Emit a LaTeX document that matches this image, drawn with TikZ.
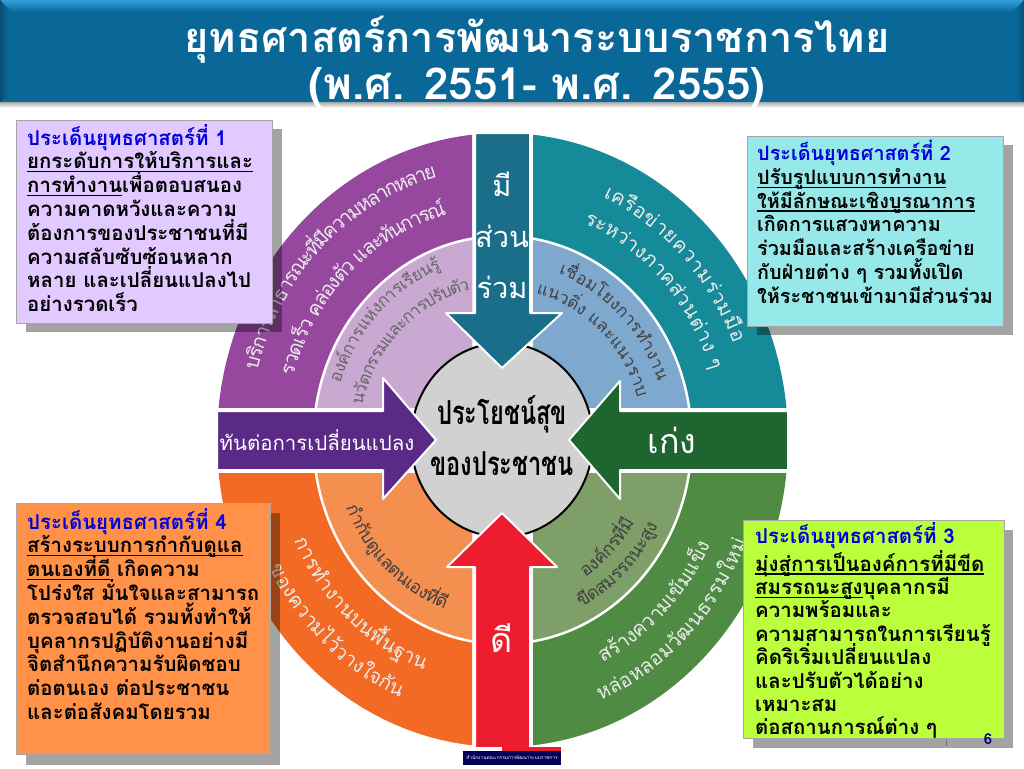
\documentclass[tikz,border=0pt]{standalone}
\usepackage{fontspec}
\setmainfont[Script=Thai]{Loma}
\usetikzlibrary{positioning}
\setlength{\lineskiplimit}{-100pt}
\setlength{\normallineskiplimit}{-100pt}
\definecolor{bandblue}{HTML}{0A6898}
\definecolor{bandlight}{HTML}{2E9FDC}
\definecolor{arrteal}{HTML}{1A6E8A}
\definecolor{arrpurple}{HTML}{5B2A86}
\definecolor{arrgreen}{HTML}{1E6530}
\definecolor{arrred}{HTML}{ED1C2E}
\definecolor{headblue}{HTML}{0000DD}
\definecolor{boxlav}{HTML}{E2C9FF}
\definecolor{boxcyan}{HTML}{97E8E8}
\definecolor{boxlime}{HTML}{BBFF3C}
\definecolor{boxorange}{HTML}{FF9148}
\tikzset{
  boxshade/.style={fill=black,opacity=.36},
  stratbox/.style={draw=gray!70,line width=.6pt,anchor=north west,inner sep=0pt},
  boxtext/.style={anchor=north west,inner sep=0pt,align=left,font=\fontsize{20.4}{23.8}\selectfont\bfseries},
  arrow/.style={draw=white,line width=2pt},
  armlabel/.style={text=white,inner sep=0pt,font=\fontsize{34}{40}\selectfont},
  arcchar/.style={anchor=base,inner sep=0pt},
}
\newlength{\chwd}
\newcommand{\measurech}[2]{\pgfinterruptpicture\settowidth{\chwd}{\fontsize{#1}{#1}\selectfont #2}\global\chwd=\chwd\endpgfinterruptpicture}
% rule at a fixed depth, so that Thai descenders do not push it down
\newcommand{\ulthai}[1]{\setbox0=\hbox{#1}\rlap{\rule[-3.4pt]{\wd0}{1.2pt}}\box0\relax}
% one rotated node per Thai cluster, fitted between two angles of the ring
\newcommand{\arclabel}[8]{%
  \gdef\totw{0}%
  \foreach \ch in {#8}{%
    \measurech{#2}{\ch}%
    \pgfmathsetmacro\sumw{\totw+\chwd}\global\let\totw\sumw}%
  \gdef\curw{0}%
  \pgfmathsetmacro\dirn{#7>#6 ? 1 : -1}%
  \foreach \ch [count=\i] in {#8}{%
    \measurech{#2}{\ch}%
    \pgfmathsetmacro\ang{#6+(#7-#6)*((\curw+0.5*\chwd)/\totw)}%
    \pgfmathsetmacro\rot{atan2(\dirn*#5*cos(\ang),-\dirn*#4*sin(\ang))}%
    \node (#1\i) [arcchar,text=#3,rotate=\rot,font=\fontsize{#2}{#2}\selectfont]
      at ({502+#4*cos(\ang)},{440-#5*sin(\ang)}) {\ch};
    \pgfmathsetmacro\sumw{\curw+\chwd}\global\let\curw\sumw}%
}
\begin{document}
\begin{tikzpicture}[x=1pt,y=-1pt,line join=round]
\useasboundingbox (0,0) rectangle (1024,768);
% header band
\shade[top color=black!45,bottom color=white] (0,100) rectangle (1024,108);
\fill[bandblue] (0,0) rectangle (1024,102);
\shade[top color=bandlight,bottom color=bandblue] (0,0) -- (1024,0) -- (1012,12) -- (12,12) -- cycle;
\shade[left color=bandblue!75!black,right color=bandblue] (0,0) -- (8,10) -- (8,96) -- (0,102) -- cycle;
\shade[left color=bandblue,right color=bandblue!75!black] (1024,0) -- (1016,10) -- (1016,96) -- (1024,102) -- cycle;
\node (title) [text=white,inner sep=0pt,align=center,font=\fontsize{41.5}{47}\selectfont\bfseries] at (537,62)
  {ยุทธศาสตร์การพัฒนาระบบราชการไทย\\\fontsize{44}{47}\selectfont (พ.ศ. 2551- พ.ศ. 2555)};
% four quarters of the rings
\foreach \xa/\ya/\xb/\yb/\colout/\colin in {
  200/120/472/407/96489E/C9A9D1,
  533/120/800/407/158A98/7FA8CF,
  200/473/472/760/F26A24/F58F50,
  533/473/800/760/4F8B43/7F9F68}{
  \definecolor{colo}{HTML}{\colout}
  \definecolor{coli}{HTML}{\colin}
  \begin{scope}
    \clip (\xa,\ya) rectangle (\xb,\yb);
    \fill[colo] (502.5,440) ellipse [x radius=285.5,y radius=307];
    \draw[white,line width=2.5pt,fill=coli] (502.5,440) ellipse [x radius=189,y radius=204];
  \end{scope}
}
% middle disk
\draw[black,line width=2pt,fill=black!18] (502,440) ellipse [x radius=91,y radius=97];
% the four arrows
\draw[arrow,fill=arrteal] (475,133) -- (530,133) -- (530,313) -- (562,313) -- (502,368) -- (446,313) -- (475,313) -- cycle;
\draw[arrow,fill=arrpurple] (217,411) -- (383,411) -- (383,378) -- (436,440) -- (383,499) -- (383,470) -- (217,470) -- cycle;
\draw[arrow,fill=arrgreen] (788,411) -- (620,411) -- (620,381) -- (569,440) -- (620,499) -- (620,470) -- (788,470) -- cycle;
\draw[arrow,fill=arrred] (475,748) -- (530,748) -- (530,567) -- (557,567) -- (502,513) -- (447,567) -- (475,567) -- cycle;
% labels of the arrows and disk
\node (armtop) [armlabel,align=center,font=\fontsize{29}{51}\selectfont] at (502,235) {มี\\ส่วน\\ร่วม};
\node (armleft) [text=white,inner sep=0pt,font=\fontsize{20.4}{24}\selectfont] at (317,440) {ทันต่อการเปลี่ยนแปลง};
\node (armright) [armlabel] at (672,440) {เก่ง};
\node (armbottom) [armlabel] at (502,638) {ดี};
\node (centre) [inner sep=0pt,align=center,font=\fontsize{23.6}{51}\selectfont\bfseries] at (502,436) {\scalebox{1}[1.4]{ประโยชน์สุข}\\\scalebox{1}[1.4]{ของประชาชน}};
% text along the rings
\arclabel{pa}{20}{black!8}{253}{272}{165}{105}{บ,ริ,ก,า,ร,ส,า,ธ,า,ร,ณ,ะ,ที่,มี,ค,ว,า,ม,ห,ล,า,ก,ห,ล,า,ย}
\arclabel{pb}{20}{black!8}{217}{233}{164}{105}{ร,ว,ด,เ,ร็,ว,~,ค,ล่,อ,ง,ตั,ว,~,แ,ล,ะ,ทั,น,ก,า,ร,ณ์}
\arclabel{pc}{17}{black!60}{170}{183}{162}{111}{อ,ง,ค์,ก,า,ร,แ,ห่,ง,ก,า,ร,เ,รี,ย,น,รู้}
\arclabel{pd}{17}{black!60}{143}{154}{167}{103}{น,วั,ต,ก,ร,ร,ม,แ,ล,ะ,ก,า,ร,ป,รั,บ,ตั,ว}
\arclabel{ta}{20}{black!8}{248}{266}{66}{21}{เ,ค,รื,อ,ข่,า,ย,ค,ว,า,ม,ร่,ว,ม,มื,อ}
\arclabel{tb}{20}{black!8}{218}{234}{68}{17}{ร,ะ,ห,ว่,า,ง,ภ,า,ค,ส่,ว,น,ต่,า,ง,~,ๆ}
\arclabel{tc}{17}{black!75}{165}{177}{70}{19}{เ,ชื่,อ,ม,โ,ย,ง,ก,า,ร,ทำ,ง,า,น}
\arclabel{td}{17}{black!75}{141}{151}{76}{16}{แ,น,ว,ดิ่,ง,~,แ,ล,ะ,แ,น,ว,ร,า,บ}
\arclabel{oa}{20}{black!8}{228}{245}{204}{250}{ก,า,ร,ทำ,ง,า,น,บ,น,พื้,น,ฐ,า,น}
\arclabel{ob}{20}{black!8}{261}{280}{207}{247}{ข,อ,ง,ค,ว,า,ม,ไ,ว้,ว,า,ง,ใ,จ,กั,น}
\arclabel{oc}{18}{black!75}{168}{180}{202}{250}{กำ,กั,บ,ดู,แ,ล,ต,น,เ,อ,ง,ที่,ดี}
\arclabel{ga}{20}{black!8}{230}{247}{296}{335}{ส,ร้,า,ง,ค,ว,า,ม,เ,ข้,ม,แ,ข็,ง}
\arclabel{gb}{20}{black!8}{262}{281}{292}{339}{ห,ล่,อ,ห,ล,อ,ม,วั,ฒ,น,ธ,ร,ร,ม,ใ,ห,ม่}
\arclabel{gc}{18}{black!75}{153}{164}{303}{330}{อ,ง,ค์,ก,ร,ที่,มี}
\arclabel{gd}{18}{black!75}{175}{188}{297}{333}{ขี,ด,ส,ม,ร,ร,ถ,น,ะ,สู,ง}
% footer strip and logo
\fill[arrred] (502,747) rectangle (561,751);
\fill[blue!35!black] (463,751) rectangle (561,765);
\node (logo) [text=white,inner sep=0pt,font=\fontsize{4.8}{6}\selectfont] at (512,758) {สำนักงานคณะกรรมการพัฒนาระบบราชการ};
% box shadows
\fill[boxshade] (26,129) rectangle (282,332);
\fill[boxshade] (757,145) rectangle (1013,335);
\fill[boxshade] (26,513) rectangle (280,765);
\fill[boxshade] (753,530) rectangle (1013,748);
\draw[black!55,line width=1pt] (946,738) -- (946,746);
% the four boxes
\node (boxa) [stratbox,fill=boxlav,minimum width=256pt,minimum height=203pt] at (16,120) {};
\node (boxb) [stratbox,fill=boxcyan,minimum width=256pt,minimum height=190pt] at (747,136) {};
\node (boxc) [stratbox,fill=boxlime,minimum width=261pt,minimum height=218pt] at (743,520) {};
\node (boxd) [stratbox,fill=boxorange,minimum width=254pt,minimum height=251pt] at (16,503) {};
\node (pagenum) [text=blue!50!black,inner sep=0pt,font=\fontsize{15}{15}\selectfont\bfseries] at (988,739) {6};
\node (texta) [boxtext] at (27,124) {\textcolor{headblue}{ประเด็นยุทธศาสตร์ที่ 1}\\
  \ulthai{ยกระดับการให้บริการและ}\\
  \ulthai{การทำงาน}เพื่อตอบสนอง\\
  ความคาดหวังและความ\\
  ต้องการของประชาชนที่มี\\
  ความสลับซับซ้อนหลาก\\
  หลาย และเปลี่ยนแปลงไป\\
  อย่างรวดเร็ว};
\node (textb) [boxtext,font=\fontsize{19.8}{23.8}\selectfont\bfseries] at (757,140) {\textcolor{headblue}{ประเด็นยุทธศาสตร์ที่ 2}\\
  \ulthai{ปรับรูปแบบการทำงาน}\\
  \ulthai{ให้มีลักษณะเชิงบูรณาการ}\\
  เกิดการแสวงหาความ\\
  ร่วมมือและสร้างเครือข่าย\\
  กับฝ่ายต่าง ๆ รวมทั้งเปิด\\
  ให้ระชาชนเข้ามามีส่วนร่วม};
\node (textc) [boxtext,font=\fontsize{20.4}{23.4}\selectfont\bfseries] at (755,522) {\textcolor{headblue}{ประเด็นยุทธศาสตร์ที่ 3}\\[4.6pt]
  \ulthai{มุ่งสู่การเป็นองค์การที่มีขีด}\\
  \ulthai{สมรรถนะสูง}บุคลากรมี\\
  ความพร้อมและ\\
  ความสามารถในการเรียนรู้\\
  คิดริเริ่มเปลี่ยนแปลง\\
  และปรับตัวได้อย่าง\\
  เหมาะสม\\
  ต่อสถานการณ์ต่าง ๆ};
\node (textd) [boxtext] at (27,508) {\textcolor{headblue}{ประเด็นยุทธศาสตร์ที่ 4}\\
  \ulthai{สร้างระบบการกำกับดูแล}\\
  \ulthai{ตนเองที่ดี} เกิดความ\\
  โปร่งใส มั่นใจและสามารถ\\
  ตรวจสอบได้ รวมทั้งทำให้\\
  บุคลากรปฏิบัติงานอย่างมี\\
  จิตสำนึกความรับผิดชอบ\\
  ต่อตนเอง ต่อประชาชน\\
  และต่อสังคมโดยรวม};
\end{tikzpicture}
\end{document}
